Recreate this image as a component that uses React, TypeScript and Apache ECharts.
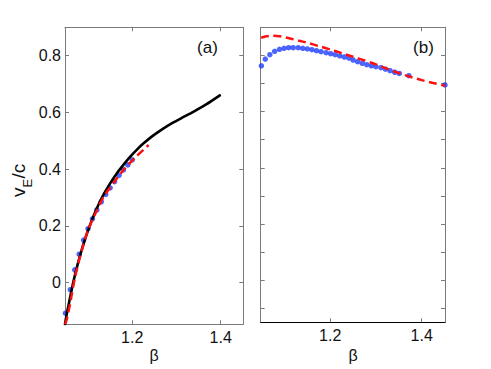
import React, { useEffect, useRef } from "react";
import * as echarts from "echarts";

// Panel (a)
const betaBlackA = [1.048, 1.052, 1.056, 1.063, 1.071, 1.082, 1.093, 1.105, 1.12, 1.135, 1.15, 1.165, 1.18, 1.195, 1.21, 1.225, 1.247, 1.27, 1.292, 1.315, 1.338, 1.368, 1.398];
const vBlackA = [-0.147, -0.11, -0.08, -0.025, 0.03, 0.095, 0.152, 0.205, 0.262, 0.31, 0.35, 0.385, 0.415, 0.443, 0.468, 0.49, 0.518, 0.543, 0.564, 0.583, 0.602, 0.629, 0.66];
const betaBlueA = [1.049, 1.06, 1.07, 1.08, 1.09, 1.1, 1.11, 1.12, 1.13, 1.14, 1.15, 1.16, 1.17, 1.18, 1.19, 1.2];
const vBlueA = [-0.108, -0.025, 0.045, 0.1, 0.15, 0.19, 0.225, 0.256, 0.285, 0.311, 0.334, 0.356, 0.378, 0.397, 0.415, 0.433];
const betaRedA = [1.048, 1.052, 1.06, 1.07, 1.08, 1.09, 1.1, 1.12, 1.135, 1.157, 1.18, 1.206, 1.237];
const vRedA = [-0.147, -0.13, -0.07, 0.015, 0.08, 0.135, 0.185, 0.255, 0.302, 0.35, 0.397, 0.44, 0.485];

// Panel (b)
const betaBlueB = [1.0495, 1.058, 1.068, 1.0785, 1.089, 1.099, 1.109, 1.119, 1.13, 1.14, 1.15, 1.16, 1.17, 1.18, 1.191, 1.201, 1.211, 1.221, 1.231, 1.241, 1.25, 1.26, 1.27, 1.28, 1.29, 1.3, 1.311, 1.321, 1.331, 1.341, 1.351, 1.372, 1.451];
const vBlueB = [0.763, 0.787, 0.8025, 0.8146, 0.8217, 0.8253, 0.8274, 0.8274, 0.8274, 0.8253, 0.8228, 0.8203, 0.8167, 0.8132, 0.8096, 0.806, 0.8025, 0.7979, 0.7943, 0.7907, 0.7836, 0.7776, 0.7719, 0.7669, 0.763, 0.76, 0.7562, 0.751, 0.7456, 0.74, 0.7356, 0.7278, 0.6947];
const betaRedB = [1.049, 1.06, 1.075, 1.09, 1.11, 1.13, 1.15, 1.175, 1.2, 1.225, 1.25, 1.275, 1.3, 1.325, 1.35, 1.375, 1.4, 1.425, 1.451];
const vRedB = [0.863, 0.868, 0.87, 0.868, 0.861, 0.853, 0.845, 0.833, 0.821, 0.808, 0.795, 0.782, 0.768, 0.752, 0.737, 0.724, 0.712, 0.702, 0.692];

const xTicks = [1.2, 1.4];
const yTicksA = [0, 0.2, 0.4, 0.6, 0.8];
const yTicksB = [-0.1, 0, 0.1, 0.2, 0.3, 0.4, 0.5, 0.6, 0.7, 0.8, 0.9];

const zip = (xs: number[], ys: number[]) => xs.map((x, i) => [x, ys[i]]);

const FONT = "Liberation Sans";
const BOX = "#7a7a7a";
const BLUE = "#1f3fff";
const RED = "#ff1010";

function xAx(grid: number, pos: "top" | "bottom", labels: boolean, lineColor: string) {
  return {
    type: "value",
    gridIndex: grid,
    position: pos,
    min: 1.048,
    max: 1.451,
    axisLine: { show: true, onZero: false, lineStyle: { color: lineColor, width: 1 } },
    axisTick: { show: true, inside: true, length: 4, customValues: xTicks, lineStyle: { color: BOX } },
    axisLabel: {
      show: labels,
      customValues: xTicks,
      margin: 5,
      color: "#111",
      fontSize: 16,
      fontFamily: FONT,
      formatter: (v: number) => v.toFixed(1),
    },
    splitLine: { show: false },
  };
}

function yAx(grid: number, pos: "left" | "right", labels: boolean, min: number, ticks: number[]) {
  return {
    type: "value",
    gridIndex: grid,
    position: pos,
    min,
    max: 0.9,
    axisLine: { show: true, onZero: false, lineStyle: { color: BOX, width: 1 } },
    axisTick: { show: true, inside: true, length: 4, customValues: ticks, lineStyle: { color: BOX } },
    axisLabel: {
      show: labels,
      customValues: ticks,
      margin: 4,
      color: "#111",
      fontSize: 16,
      fontFamily: FONT,
      formatter: (v: number) => (Math.abs(v) < 1e-9 ? "0" : v.toFixed(1)),
    },
    splitLine: { show: false },
  };
}

export default function App() {
  const ref = useRef<HTMLDivElement>(null);
  useEffect(() => {
    if (!ref.current) return;
    const chart = echarts.init(ref.current, null, { renderer: "svg" });
    const dash = { color: RED, width: 2.5, type: [8, 4.5] as any };
    chart.setOption({
      animation: false,
      backgroundColor: "#fff",
      grid: [
        { left: 65, top: 27.3, width: 178.3, height: 297 },
        { left: 260.7, top: 27.3, width: 184.3, height: 295 },
      ],
      xAxis: [
        xAx(0, "bottom", true, BOX),
        xAx(0, "top", false, BOX),
        xAx(1, "bottom", true, "#000"),
        xAx(1, "top", false, BOX),
      ],
      yAxis: [
        yAx(0, "left", true, -0.147, yTicksA),
        yAx(0, "right", false, -0.147, yTicksA),
        yAx(1, "left", false, -0.15, yTicksB),
        yAx(1, "right", false, -0.15, yTicksB),
      ],
      series: [
        {
          type: "line",
          xAxisIndex: 0,
          yAxisIndex: 0,
          data: zip(betaBlackA, vBlackA),
          showSymbol: false,
          smooth: 0.2,
          lineStyle: { color: "#000", width: 2.6, join: "round", cap: "round" },
        },
        {
          type: "scatter",
          xAxisIndex: 0,
          yAxisIndex: 0,
          data: zip(betaBlueA, vBlueA),
          symbolSize: 5.5,
          itemStyle: { color: BLUE },
        },
        {
          type: "line",
          xAxisIndex: 0,
          yAxisIndex: 0,
          data: zip(betaRedA, vRedA),
          showSymbol: false,
          smooth: 0.2,
          lineStyle: dash,
        },
        {
          type: "scatter",
          xAxisIndex: 2,
          yAxisIndex: 2,
          data: zip(betaBlueB, vBlueB),
          symbolSize: 5.5,
          itemStyle: { color: BLUE },
        },
        {
          type: "line",
          xAxisIndex: 2,
          yAxisIndex: 2,
          data: zip(betaRedB, vRedB),
          showSymbol: false,
          smooth: 0.2,
          lineStyle: dash,
        },
      ],
      graphic: [
        { type: "text", x: 207.5, y: 47.7, style: { text: "(a)", font: `17px '${FONT}'`, fill: "#111", align: "center", verticalAlign: "middle" } },
        { type: "text", x: 423.5, y: 47.7, style: { text: "(b)", font: `17px '${FONT}'`, fill: "#111", align: "center", verticalAlign: "middle" } },
        { type: "text", x: 154, y: 355, style: { text: "β", font: `16px '${FONT}'`, fill: "#111", align: "center", verticalAlign: "middle" } },
        { type: "text", x: 353, y: 355, style: { text: "β", font: `16px '${FONT}'`, fill: "#111", align: "center", verticalAlign: "middle" } },
        {
          type: "group",
          x: 20,
          y: 174,
          rotation: Math.PI / 2,
          children: [
            { type: "text", x: -23, y: -2, style: { text: "v", font: `19px '${FONT}'`, fill: "#111", align: "left", verticalAlign: "middle" } },
            { type: "text", x: -13.5, y: 7, style: { text: "E", font: `13px '${FONT}'`, fill: "#111", align: "left", verticalAlign: "middle" } },
            { type: "text", x: -4.5, y: -2, style: { text: "/c", font: `19px '${FONT}'`, fill: "#111", align: "left", verticalAlign: "middle" } },
          ],
        },
      ],
    });
    return () => chart.dispose();
  }, []);
  return <div ref={ref} style={{ position: "absolute", left: 0, top: 0, width: 491, height: 369 }} />;
}
